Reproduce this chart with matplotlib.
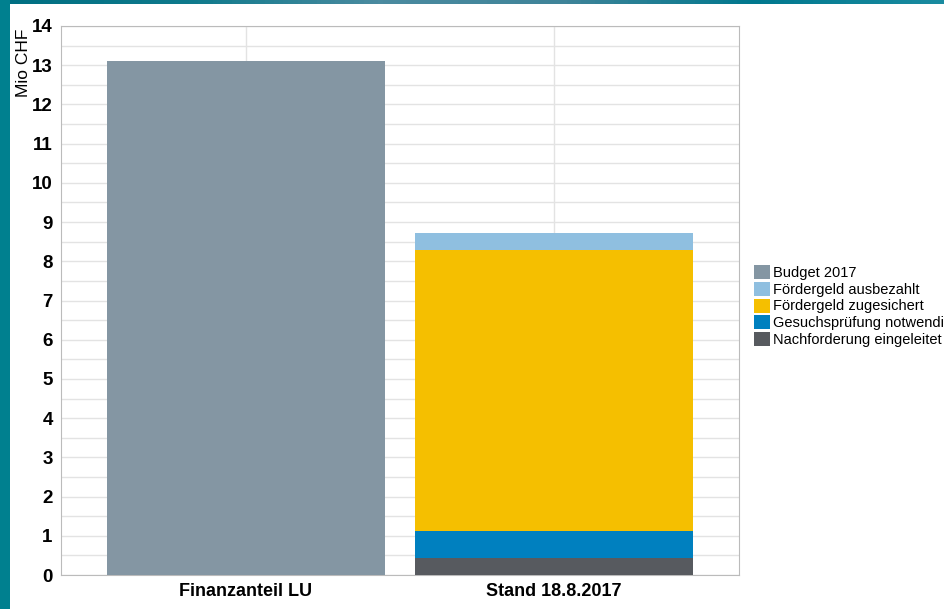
import numpy as np
import matplotlib
matplotlib.use('Agg')
from matplotlib import pyplot as plt
from matplotlib.patches import Rectangle, Patch
from matplotlib.colors import LinearSegmentedColormap

plt.rcParams['font.family'] = ['Liberation Sans', 'DejaVu Sans']

# data (Mio CHF)
categories = ['Finanzanteil LU', 'Stand 18.8.2017']
budget = [13.1, 0.0]
stack_labels = ['Nachforderung eingeleitet', 'Gesuchsprüfung notwendig',
                'Fördergeld zugesichert', 'Fördergeld ausbezahlt']
stack_values = [0.44, 0.68, 7.17, 0.43]
legend_order = ['Budget 2017', 'Fördergeld ausbezahlt', 'Fördergeld zugesichert',
                'Gesuchsprüfung notwendig', 'Nachforderung eingeleitet']
colors = {
    'Budget 2017': '#8496a3',
    'Fördergeld ausbezahlt': '#8fbfe0',
    'Fördergeld zugesichert': '#f5bf00',
    'Gesuchsprüfung notwendig': '#0080bf',
    'Nachforderung eingeleitet': '#575a5f',
}

fig = plt.figure(figsize=(9.45, 6.09), dpi=100)
fig.patch.set_facecolor('white')

# teal frame on left and top
fig.patches.append(Rectangle((0, 0), 10 / 945, 1, transform=fig.transFigure,
                             facecolor='#00808f', edgecolor='none', zorder=0))
top = fig.add_axes([0, 1 - 4 / 609, 1, 4 / 609])
cmap = LinearSegmentedColormap.from_list(
    'frame', ['#006f82', '#0f7a8c', '#4b8ba0', '#3f8499', '#00788e', '#1a8ba0'])
top.imshow(np.linspace(0, 1, 200)[None, :], aspect='auto', cmap=cmap)
top.axis('off')

ax = fig.add_axes([61 / 945, 1 - 575 / 609, 678 / 945, 549 / 609])
x = np.arange(1, len(categories) + 1)
width = 0.9

ax.bar(x, budget, width, color=colors['Budget 2017'], zorder=3)
bottom = np.zeros(len(categories))
for lab, val in zip(stack_labels, stack_values):
    vals = np.array([0.0, val])
    ax.bar(x, vals, width, bottom=bottom, color=colors[lab], zorder=3)
    bottom += vals

ax.set_xlim(0.4, 2.6)
ax.set_ylim(0, 14)
ax.set_yticks(np.arange(0, 15, 1))
ax.set_yticks(np.arange(0.5, 14, 1), minor=True)
ax.set_xticks(x)
ax.set_xticklabels(categories, fontsize=13, fontweight='bold')
ax.tick_params(axis='y', labelsize=13.5, length=0, pad=6)
ax.tick_params(axis='x', length=0, pad=6)
ax.tick_params(which='minor', length=0)
for lbl in ax.get_yticklabels():
    lbl.set_fontweight('bold')
ax.grid(True, which='both', color='#e3e3e3', linewidth=1, zorder=0)
for sp in ax.spines.values():
    sp.set_color('#bbbbbb')

fig.text(24 / 945, 1 - 63 / 609, 'Mio CHF', rotation=90, fontsize=12.5,
         ha='center', va='center')

handles = [Patch(facecolor=colors[l], edgecolor='none') for l in legend_order]
fig.legend(handles, legend_order, loc='center left',
           bbox_to_anchor=(754 / 945, 1 - 306 / 609), frameon=False,
           fontsize=10.5, handlelength=1.1, handleheight=1.1,
           handletextpad=0.2, labelspacing=0.12, borderaxespad=0,
           borderpad=0)

fig.savefig('out.png', dpi=100)
